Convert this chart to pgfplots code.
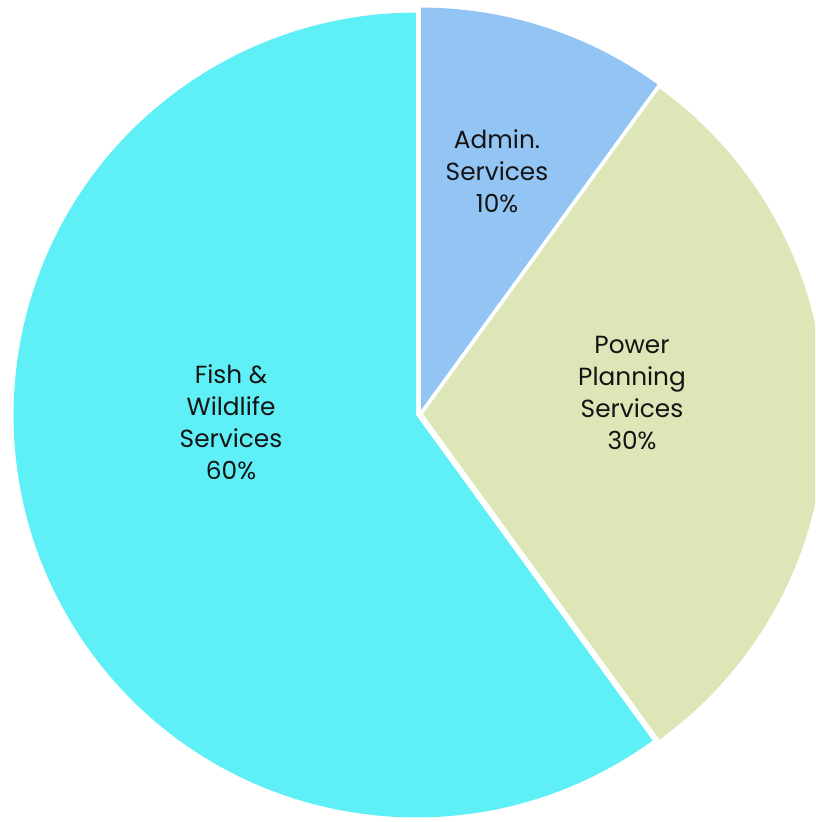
\documentclass[border=0pt]{standalone}
\usepackage{fontspec}
\setmainfont{Poppins}
\usepackage{pgfplots}
\usepackage{pgfplotstable}
\pgfplotsset{compat=1.18}
\definecolor{admincol}{RGB}{146,197,244}
\definecolor{powercol}{RGB}{220,230,183}
\definecolor{fishcol}{RGB}{94,240,246}
\definecolor{txtcol}{RGB}{20,20,20}
% slice value, centre of slice (px, y upward), label position
\pgfplotstableread{
value cx  cy  lx  ly
10    421 412 497 651
30    423 408 632 429
60    416 407 231 400
}\piedata
\begin{document}
\begin{tikzpicture}
\pgfkeys{/pgf/number format/assume math mode=true}
\pgfplotstablegetelem{0}{value}\of\piedata\let\va\pgfplotsretval
\pgfplotstablegetelem{1}{value}\of\piedata\let\vb\pgfplotsretval
\pgfplotstablegetelem{2}{value}\of\piedata\let\vc\pgfplotsretval
\pgfmathsetmacro{\tot}{\va+\vb+\vc}
\pgfmathsetmacro{\fa}{\va/\tot}
\pgfmathsetmacro{\fb}{\vb/\tot}
\pgfmathsetmacro{\fc}{\vc/\tot}
\pgfmathsetmacro{\aA}{90}
\pgfmathsetmacro{\aB}{\aA-360*\fa}
\pgfmathsetmacro{\aC}{\aB-360*\fb}
\pgfmathsetmacro{\aD}{\aC-360*\fc}
\pgfmathsetmacro{\pa}{100*\fa}
\pgfmathsetmacro{\pb}{100*\fb}
\pgfmathsetmacro{\pc}{100*\fc}
\begin{axis}[
  x=0.5pt, y=0.5pt,
  xmin=0, xmax=815, ymin=0, ymax=822,
  axis line style={draw=none}, ticks=none,
  clip=true,
  /pgf/number format/assume math mode=true,
]
\fill[admincol] (axis cs:421,412) -- ++(\aA:201.2pt) arc[start angle=\aA, end angle=\aB, radius=201.2pt] -- cycle;
\fill[powercol] (axis cs:423,408) -- ++(\aB:201.2pt) arc[start angle=\aB, end angle=\aC, radius=201.2pt] -- cycle;
\fill[fishcol] (axis cs:416,407) -- ++(\aC:201.2pt) arc[start angle=\aC, end angle=\aD, radius=201.2pt] -- cycle;
\node[align=center, text=txtcol, font=\fontsize{12.4}{16}\selectfont] at (axis cs:497,651) {Admin.\\Services\\\pgfmathprintnumber[precision=0,assume math mode=true]{\pa}\%};
\node[align=center, text=txtcol, font=\fontsize{12.4}{16}\selectfont] at (axis cs:632,429) {Power\\Planning\\Services\\\pgfmathprintnumber[precision=0,assume math mode=true]{\pb}\%};
\node[align=center, text=txtcol, font=\fontsize{12.4}{16}\selectfont] at (axis cs:231,400) {Fish \&\\Wildlife\\Services\\\pgfmathprintnumber[precision=0,assume math mode=true]{\pc}\%};
\end{axis}
\end{tikzpicture}
\end{document}
